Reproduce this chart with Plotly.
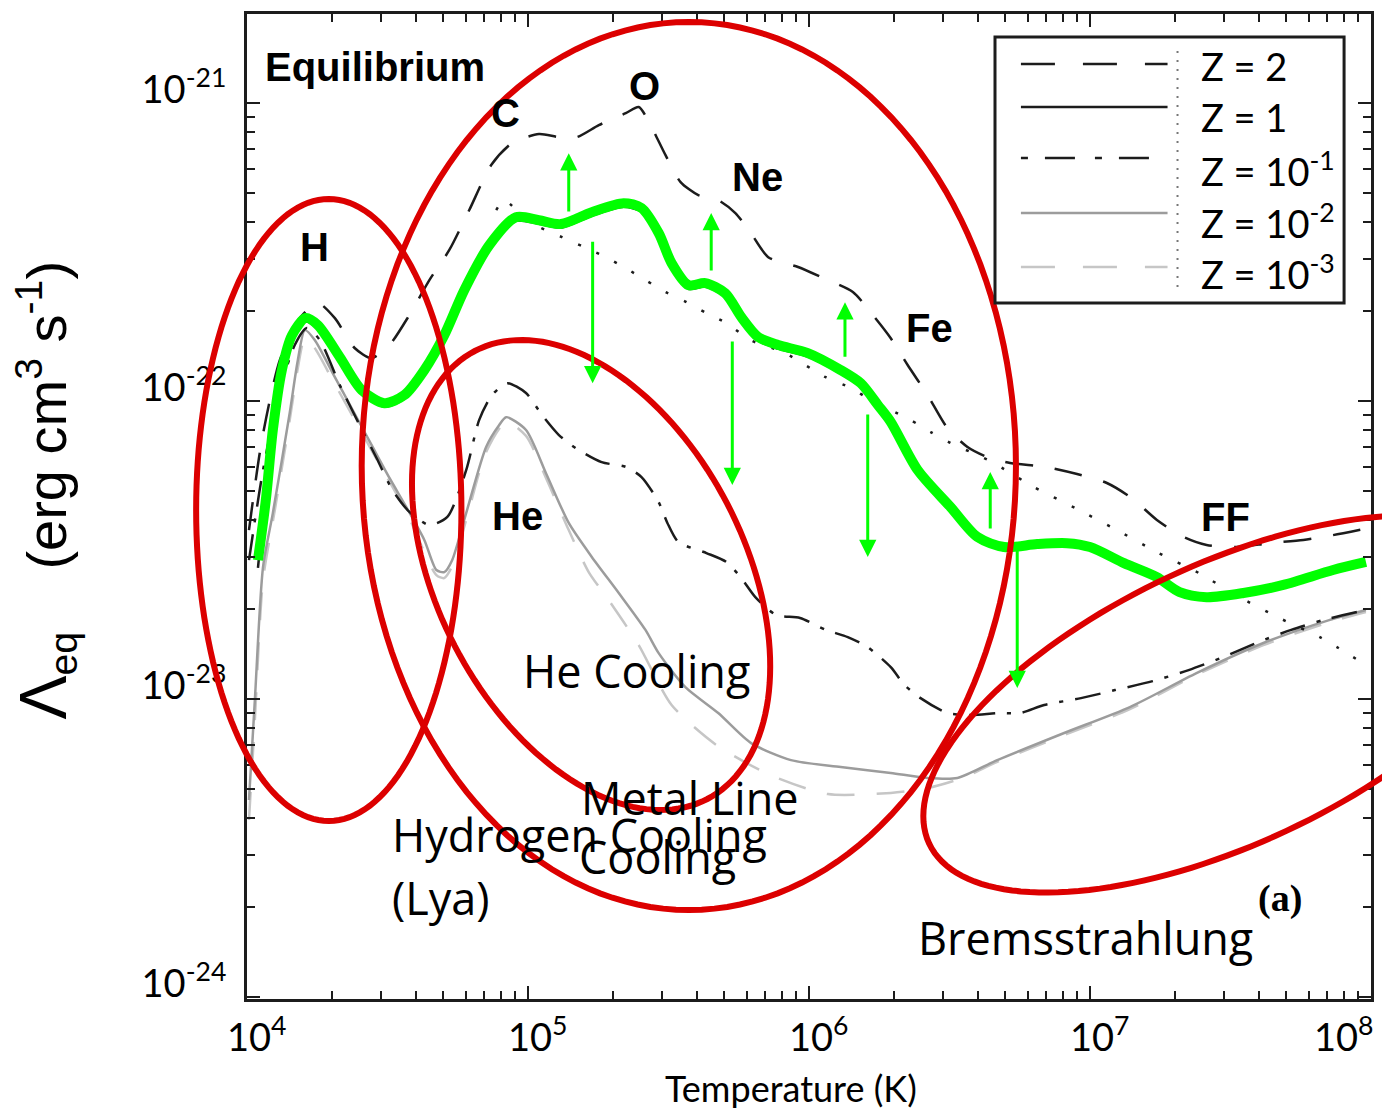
import math
import plotly.graph_objects as go

# ---- cooling curves: log10 T [K] and log10 Lambda_eq [erg cm^3 s^-1] ----
z2_logT = [4.007, 4.053, 4.117, 4.188, 4.252, 4.312, 4.383, 4.443, 4.507, 4.578,
           4.649, 4.720, 4.791, 4.869, 4.943, 5.039, 5.110, 5.174, 5.252, 5.348,
           5.394, 5.436, 5.489, 5.543, 5.606, 5.677, 5.738, 5.791, 5.855, 5.961,
           6.050, 6.156, 6.227, 6.291, 6.351, 6.422, 6.493, 6.564, 6.635, 6.716,
           6.840, 6.954, 7.060, 7.149, 7.238, 7.333, 7.415, 7.521, 7.638, 7.759,
           7.865, 7.993]
z2_logL = [-22.433, -22.131, -21.862, -21.721, -21.671, -21.721, -21.822, -21.856, -21.812, -21.711,
           -21.594, -21.493, -21.359, -21.208, -21.134, -21.104, -21.114, -21.114, -21.074, -21.034,
           -21.013, -21.074, -21.174, -21.265, -21.309, -21.326, -21.369, -21.433, -21.517, -21.550,
           -21.587, -21.634, -21.711, -21.789, -21.879, -21.980, -22.091, -22.154, -22.188, -22.208,
           -22.221, -22.245, -22.275, -22.326, -22.399, -22.456, -22.483, -22.490, -22.477, -22.466,
           -22.450, -22.426]

z1_logT = [4.039, 4.092, 4.160, 4.209, 4.252, 4.330, 4.408, 4.489, 4.560, 4.631,
           4.702, 4.773, 4.862, 4.957, 5.039, 5.117, 5.227, 5.340, 5.404, 5.465,
           5.511, 5.571, 5.631, 5.702, 5.759, 5.819, 5.890, 5.996, 6.113, 6.184,
           6.245, 6.291, 6.387, 6.504, 6.599, 6.695]
z1_logL = [-22.560, -22.110, -21.790, -21.733, -21.757, -21.864, -21.975, -22.019, -21.992, -21.908,
           -21.791, -21.640, -21.489, -21.395, -21.405, -21.418, -21.378, -21.348, -21.364, -21.448,
           -21.549, -21.623, -21.616, -21.650, -21.730, -21.797, -21.824, -21.851, -21.908, -21.952,
           -22.025, -22.082, -22.244, -22.368, -22.468, -22.502]

# intermediate-metallicity curve (dotted, no legend entry)
zmid_logT = [4.887, 4.915, 5.004, 5.121, 5.199, 5.277, 5.348, 5.418, 5.489, 5.564,
             5.635, 5.706, 5.791, 5.915, 6.057, 6.149, 6.220, 6.291, 6.362, 6.433,
             6.504, 6.582, 6.652, 6.801, 6.947, 7.096, 7.238, 7.387, 7.532, 7.674,
             7.823, 7.965]
zmid_logL = [-21.359, -21.326, -21.399, -21.450, -21.483, -21.517, -21.554, -21.594, -21.634, -21.668,
             -21.705, -21.738, -21.795, -21.839, -21.919, -21.956, -21.997, -22.030, -22.064, -22.104,
             -22.141, -22.174, -22.205, -22.289, -22.359, -22.433, -22.507, -22.577, -22.658, -22.728,
             -22.795, -22.876]

z01_logT = [4.007, 4.057, 4.117, 4.170, 4.213, 4.259, 4.330, 4.401, 4.461, 4.518,
            4.578, 4.649, 4.713, 4.780, 4.826, 4.872, 4.926, 4.993, 5.050, 5.110,
            5.170, 5.262, 5.348, 5.404, 5.465, 5.496, 5.535, 5.635, 5.706, 5.759,
            5.809, 5.883, 5.968, 6.060, 6.138, 6.209, 6.291, 6.340, 6.397, 6.493,
            6.582, 6.670, 6.752, 6.837, 6.968, 7.089, 7.223, 7.351, 7.475, 7.599,
            7.716, 7.830, 7.982]
z01_logL = [-22.534, -22.232, -21.963, -21.812, -21.755, -21.795, -21.946, -22.081, -22.191, -22.299,
            -22.372, -22.416, -22.389, -22.232, -22.064, -21.980, -21.940, -21.973, -22.047, -22.114,
            -22.158, -22.205, -22.221, -22.255, -22.339, -22.409, -22.473, -22.510, -22.540, -22.594,
            -22.658, -22.718, -22.728, -22.768, -22.792, -22.826, -22.893, -22.953, -22.997, -23.047,
            -23.054, -23.047, -23.047, -23.020, -22.997, -22.970, -22.940, -22.903, -22.859, -22.809,
            -22.768, -22.735, -22.701]

z001_logT = [4.007, 4.028, 4.057, 4.092, 4.152, 4.181, 4.206, 4.241, 4.305, 4.376,
             4.447, 4.507, 4.567, 4.631, 4.674, 4.702, 4.730, 4.780, 4.851, 4.897,
             4.922, 4.993, 5.064, 5.145, 5.227, 5.323, 5.418, 5.465, 5.560, 5.677,
             5.794, 5.936, 6.113, 6.291, 6.422, 6.528, 6.670, 6.908, 7.142, 7.379,
             7.617, 7.851, 7.982]
z001_logL = [-23.339, -23.003, -22.557, -22.376, -22.040, -21.862, -21.762, -21.795, -21.906, -22.030,
             -22.154, -22.258, -22.356, -22.466, -22.567, -22.574, -22.534, -22.376, -22.154, -22.081,
             -22.054, -22.097, -22.242, -22.409, -22.523, -22.644, -22.768, -22.846, -22.960, -23.047,
             -23.148, -23.205, -23.228, -23.248, -23.265, -23.265, -23.205, -23.114, -23.027, -22.913,
             -22.812, -22.735, -22.701]

z0001_logT = [4.007, 4.028, 4.057, 4.099, 4.152, 4.181, 4.206, 4.241, 4.305, 4.447,
              4.567, 4.674, 4.702, 4.730, 4.780, 4.851, 4.922, 4.993, 5.064, 5.145,
              5.216, 5.287, 5.394, 5.511, 5.670, 5.862, 6.067, 6.291, 6.422, 6.546,
              6.670, 6.908, 7.142, 7.379, 7.617, 7.851, 7.982]
z0001_logL = [-23.406, -23.070, -22.601, -22.366, -22.064, -21.889, -21.789, -21.822, -21.930, -22.171,
              -22.372, -22.584, -22.594, -22.554, -22.399, -22.171, -22.070, -22.117, -22.258, -22.433,
              -22.574, -22.668, -22.819, -23.020, -23.154, -23.255, -23.319, -23.315, -23.299, -23.265,
              -23.211, -23.121, -23.034, -22.919, -22.819, -22.742, -22.708]

# highlighted solar-metallicity path
green_logT = [4.039, 4.067, 4.092, 4.124, 4.160, 4.209, 4.252, 4.330, 4.408, 4.489,
              4.560, 4.631, 4.702, 4.773, 4.862, 4.957, 5.039, 5.117, 5.227, 5.340,
              5.404, 5.465, 5.511, 5.571, 5.631, 5.702, 5.759, 5.819, 5.890, 5.996,
              6.113, 6.184, 6.245, 6.291, 6.387, 6.504, 6.599, 6.695, 6.812, 6.918,
              7.000, 7.121, 7.238, 7.319, 7.415, 7.546, 7.688, 7.865, 7.982]
green_logL = [-22.534, -22.332, -22.097, -21.896, -21.779, -21.721, -21.745, -21.852, -21.963, -22.007,
              -21.980, -21.896, -21.779, -21.628, -21.477, -21.383, -21.393, -21.406, -21.366, -21.336,
              -21.352, -21.436, -21.537, -21.611, -21.604, -21.638, -21.718, -21.785, -21.812, -21.839,
              -21.896, -21.940, -22.013, -22.070, -22.232, -22.356, -22.456, -22.490, -22.480, -22.477,
              -22.490, -22.544, -22.591, -22.641, -22.658, -22.644, -22.617, -22.567, -22.540]

# metallicity-change arrows: log T, tail log Lambda, head log Lambda
arrow_logT = [5.145, 5.230, 5.652, 5.727, 6.128, 6.209, 6.645, 6.741]
arrow_from = [-21.369, -21.460, -21.567, -21.795, -21.856, -22.040, -22.433, -22.490]
arrow_to = [-21.168, -21.940, -21.369, -22.282, -21.668, -22.523, -22.238, -22.963]

x_tick_exp = [4, 5, 6, 7, 8]
y_tick_exp = [-24, -23, -22, -21]
legend_labels = ["Z = 2", "Z = 1", "Z = 10<sup>-1</sup>", "Z = 10<sup>-2</sup>", "Z = 10<sup>-3</sup>"]

# ---- figure geometry (pixels) ----
W, H = 1382, 1110
PL, PR, PT, PB = 247, 1374, 14, 999


def px_x(p):
    return (p - PL) / (PR - PL)


def px_y(p):
    return (PB - p) / (PB - PT)


BLACK = "#1c1c1c"
GRAY = "#9c9c9c"
LIGHT = "#c6c6c6"
GREEN = "#00ff00"
RED = "#dc0000"

fig = go.Figure()


def add_curve(lt, ll, color, width, dash, smooth=0.7):
    fig.add_trace(go.Scatter(
        x=[10 ** v for v in lt], y=[10 ** v for v in ll], mode="lines",
        line=dict(color=color, width=width, dash=dash, shape="spline", smoothing=smooth),
        showlegend=False, hoverinfo="skip"))


add_curve(z0001_logT, z0001_logL, LIGHT, 2.5, "28px,22px")
add_curve(z001_logT, z001_logL, GRAY, 2.5, "solid")
add_curve(z01_logT, z01_logL, BLACK, 2.5, "26px,12px,4px,12px")
add_curve(zmid_logT, zmid_logL, BLACK, 2.5, "3px,17px")
add_curve(z2_logT, z2_logL, BLACK, 2.5, "28px,22px")
add_curve(z1_logT, z1_logL, BLACK, 2.5, "solid")
add_curve(green_logT, green_logL, GREEN, 10, "solid", smooth=0.8)

minor_x = [k * 10 ** e for e in range(4, 8) for k in range(2, 10)]
minor_y = [k * 10 ** e for e in range(-24, -21) for k in range(2, 10)]

axis_common = dict(
    type="log", showgrid=False, zeroline=False, showline=True, linecolor=BLACK, linewidth=3,
    mirror="allticks", ticks="inside", ticklen=13, tickwidth=2, tickcolor=BLACK,
)

fig.update_layout(
    width=W, height=H,
    margin=dict(l=PL, r=W - PR, t=PT, b=H - PB),
    paper_bgcolor="white", plot_bgcolor="white", showlegend=False,
    xaxis=dict(**axis_common, range=[4, 8], tickmode="array",
               tickvals=[10 ** e for e in x_tick_exp], showticklabels=False,
               minor=dict(ticks="inside", ticklen=8, tickwidth=1.5, tickcolor=BLACK,
                          tickmode="array", tickvals=minor_x, showgrid=False)),
    yaxis=dict(**axis_common, range=[-24.0067, -20.701], tickmode="array",
               tickvals=[10 ** e for e in y_tick_exp],
               ticktext=[f"10<sup>{e}</sup>" for e in y_tick_exp],
               tickfont=dict(family="Lato", size=38, color="black"),
               ticklabelshift=-13, ticklabelstandoff=10,
               minor=dict(ticks="inside", ticklen=8, tickwidth=1.5, tickcolor=BLACK,
                          tickmode="array", tickvals=minor_y, showgrid=False)),
)

shapes = []


def ellipse_path(cx, cy, a, b, theta_deg, n=160):
    th = math.radians(theta_deg)
    pts = []
    for i in range(n):
        t = 2 * math.pi * i / n
        x = cx + a * math.cos(t) * math.cos(th) - b * math.sin(t) * math.sin(th)
        y = cy + a * math.cos(t) * math.sin(th) + b * math.sin(t) * math.cos(th)
        pts.append(f"{px_x(x):.5f},{px_y(y):.5f}")
    return "M" + " L".join(pts) + " Z"


# region outlines
for cx, cy, a, b, th in [(329, 510, 133, 311, 0), (690, 466, 328, 444, 0),
                         (592, 575, 252.5, 154, 62.5), (1230, 704, 330, 140, -25)]:
    shapes.append(dict(type="path", xref="paper", yref="paper", path=ellipse_path(cx, cy, a, b, th),
                       line=dict(color=RED, width=6), fillcolor="rgba(0,0,0,0)", layer="above"))

# legend frame and samples
shapes.append(dict(type="rect", xref="paper", yref="paper", x0=px_x(997), x1=px_x(1347),
                   y0=px_y(303), y1=px_y(37), line=dict(color=BLACK, width=3),
                   fillcolor="white", layer="above"))
legend_styles = [(BLACK, "34px,28px", 64), (BLACK, "solid", 107), (BLACK, "7px,17px,30px,20px", 158),
                 (GRAY, "solid", 213), (LIGHT, "34px,28px", 267)]
for color, dash, yy in legend_styles:
    shapes.append(dict(type="line", xref="paper", yref="paper", x0=px_x(1023), x1=px_x(1170),
                       y0=px_y(yy), y1=px_y(yy), line=dict(color=color, width=2.5, dash=dash),
                       layer="above"))
shapes.append(dict(type="line", xref="paper", yref="paper", x0=px_x(1180), x1=px_x(1180),
                   y0=px_y(287), y1=px_y(50), line=dict(color="#777", width=2, dash="2px,7px"),
                   layer="above"))
fig.update_layout(shapes=shapes)

ann = []
# x tick labels
for e in x_tick_exp:
    ann.append(dict(x=e, y=px_y(1034), xref="x", yref="paper", text=f"10<sup>{e}</sup>",
                    showarrow=False, xanchor="center", yanchor="middle",
                    xshift=(-27 if e == 8 else 10),
                    font=dict(family="Lato", size=38, color="black")))

# axis titles
ann.append(dict(x=px_x(792), y=px_y(1088), xref="paper", yref="paper", text="Temperature (K)",
                showarrow=False, xanchor="center", yanchor="middle",
                font=dict(family="Lato", size=36, color="black")))
ann.append(dict(x=px_x(45), y=px_y(490), xref="paper", yref="paper", textangle=-90,
                text=("<span style='font-size:66px'>Λ</span><sub>eq</sub>"
                      "\u00a0\u00a0\u00a0\u00a0(erg cm<sup>3</sup> s<sup>-1</sup>)"),
                showarrow=False, xanchor="center", yanchor="middle",
                font=dict(family="Liberation Sans", size=56, color="black")))

# legend labels
for lab, yy in zip(legend_labels, [66, 117, 169, 221, 272]):
    ann.append(dict(x=px_x(1202), y=px_y(yy), xref="paper", yref="paper", text=lab,
                    showarrow=False, xanchor="left", yanchor="middle",
                    font=dict(family="Lato", size=38, color="black")))

# species labels
bold = dict(family="Liberation Sans", size=40, color="black")
for txt, cx, cy in [("Equilibrium", 375, 67), ("H", 315, 247), ("He", 518, 516), ("C", 506, 113),
                    ("O", 646, 86), ("Ne", 759, 177), ("Fe", 931, 328), ("FF", 1228, 517)]:
    ann.append(dict(x=px_x(cx), y=px_y(cy), xref="paper", yref="paper", text=f"<b>{txt}</b>",
                    showarrow=False, xanchor="center", yanchor="middle", font=bold))
ann.append(dict(x=px_x(1283), y=px_y(898), xref="paper", yref="paper", text="<b>(a)</b>",
                showarrow=False, xanchor="center", yanchor="middle",
                font=dict(family="Liberation Serif", size=38, color="black")))

# process labels
hand = dict(family="Comic Sans MS, Open Sans", size=45, color="black")
for txt, x0, cy in [("He Cooling", 522, 670), ("Metal Line", 580, 797), ("Cooling", 578, 856),
                    ("Hydrogen Cooling", 390, 834), ("(Lya)", 390, 897), ("Bremsstrahlung", 918, 937)]:
    ann.append(dict(x=px_x(x0), y=px_y(cy), xref="paper", yref="paper", text=txt,
                    showarrow=False, xanchor="left", yanchor="middle", font=hand))

# arrows
for lt, a0, a1 in zip(arrow_logT, arrow_from, arrow_to):
    ann.append(dict(x=lt, y=a1, ax=lt, ay=a0, xref="x", yref="y", axref="x", ayref="y",
                    text="", showarrow=True, arrowhead=2, arrowsize=1.15, arrowwidth=3,
                    arrowcolor=GREEN, standoff=0))

fig.update_layout(annotations=ann)
fig.write_html("out.html")
